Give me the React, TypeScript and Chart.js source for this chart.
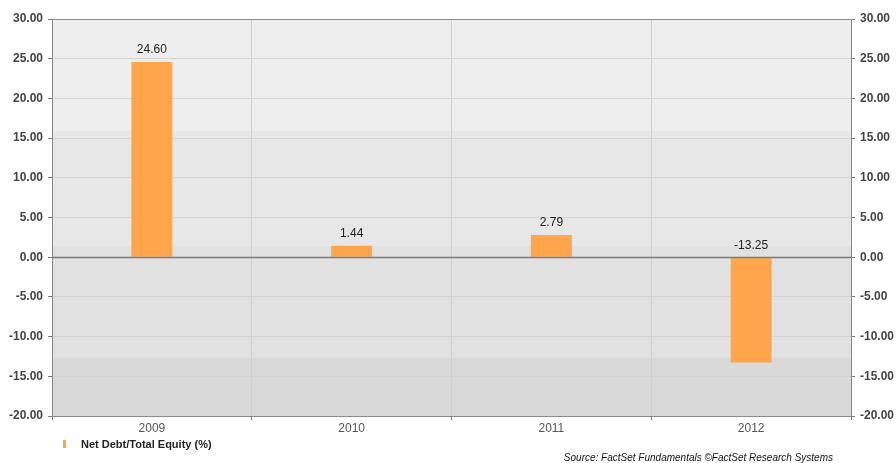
import React, { useEffect, useRef } from "react";
import { Chart, registerables } from "chart.js";

Chart.register(...registerables);

const categories = ["2009", "2010", "2011", "2012"];
const seriesName = "Net Debt/Total Equity (%)";
const values = [24.6, 1.44, 2.79, -13.25];
const yMin = -20;
const yMax = 30;
const yStep = 5;
const bandEdges = [30, 15.9, 1.4, -12.6, -20];
const bandColors = ["#eeeeee", "#e7e7e7", "#e1e1e1", "#d9d9d9"];
const sourceText = "Source: FactSet Fundamentals \u00a9FactSet Research Systems";

const FONT = "'Liberation Sans', Arial, sans-serif";
const BAR = "#ffa64d";

const customPlugin = {
  id: "custom",
  beforeDraw(chart: any) {
    const { ctx, chartArea } = chart;
    const y = chart.scales.y;
    ctx.save();
    for (let i = 0; i < bandColors.length; i++) {
      const t = y.getPixelForValue(bandEdges[i]);
      const b = y.getPixelForValue(bandEdges[i + 1]);
      ctx.fillStyle = bandColors[i];
      ctx.fillRect(chartArea.left, t, chartArea.right - chartArea.left, b - t);
    }
    ctx.restore();
  },
  afterDatasetsDraw(chart: any) {
    const { ctx, chartArea } = chart;
    const x = chart.scales.x;
    const y = chart.scales.y;
    ctx.save();
    const zy = Math.round(y.getPixelForValue(0)) + 0.5;
    ctx.strokeStyle = "#7a7a7a";
    ctx.lineWidth = 1.5;
    ctx.beginPath();
    ctx.moveTo(chartArea.left, zy);
    ctx.lineTo(chartArea.right, zy);
    ctx.stroke();
    ctx.strokeStyle = "#8a8a8a";
    ctx.lineWidth = 1;
    ctx.beginPath();
    ctx.moveTo(chartArea.left, Math.round(chartArea.top) + 0.5);
    ctx.lineTo(chartArea.right, Math.round(chartArea.top) + 0.5);
    ctx.stroke();
    ctx.fillStyle = "#222222";
    ctx.font = `12px ${FONT}`;
    ctx.textAlign = "center";
    ctx.textBaseline = "middle";
    values.forEach((v, i) => {
      const px = x.getPixelForValue(i);
      const py = y.getPixelForValue(Math.max(v, 0)) - 12;
      ctx.fillText(v.toFixed(2), px, py);
    });
    ctx.restore();
  },
  afterDraw(chart: any) {
    const { ctx } = chart;
    ctx.save();
    ctx.fillStyle = BAR;
    ctx.fillRect(63, 440, 3, 8);
    ctx.fillStyle = "#222222";
    ctx.font = `bold 11px ${FONT}`;
    ctx.textAlign = "left";
    ctx.textBaseline = "middle";
    ctx.fillText(seriesName, 81, 445);
    ctx.font = `italic 10px ${FONT}`;
    ctx.textAlign = "right";
    ctx.fillStyle = "#111111";
    ctx.fillText(sourceText, 833, 458);
    ctx.restore();
  },
};

export default function App() {
  const ref = useRef<HTMLCanvasElement>(null);
  useEffect(() => {
    document.body.style.margin = "0";
    const chart = new Chart(ref.current!, {
      type: "bar",
      data: {
        labels: categories,
        datasets: [
          {
            label: seriesName,
            data: values,
            backgroundColor: BAR,
            borderWidth: 0,
            categoryPercentage: 1,
            barPercentage: 0.205,
          },
        ],
      },
      options: {
        animation: false,
        responsive: false,
        devicePixelRatio: 1,
        layout: { padding: { top: 19, left: 0, right: 0, bottom: 0 } },
        plugins: { legend: { display: false }, tooltip: { enabled: false } },
        scales: {
          x: {
            offset: true,
            grid: {
              offset: true,
              color: "#d0d0d0",
              tickColor: "#777777",
              tickLength: 4,
            },
            border: { color: "#8a8a8a" },
            ticks: {
              color: "#555555",
              font: { family: FONT, size: 12 },
              padding: 1,
            },
            afterFit: (s: any) => {
              s.height = 47;
            },
          },
          y: {
            position: "left",
            min: yMin,
            max: yMax,
            grid: {
              color: "#d3d3d3",
              tickColor: "#777777",
              tickLength: 4,
            },
            border: { color: "#8a8a8a" },
            ticks: {
              stepSize: yStep,
              color: "#444444",
              font: { family: FONT, size: 12, weight: "bold" },
              padding: 5,
              callback: (v: any) => Number(v).toFixed(2),
            },
            afterFit: (s: any) => {
              s.width = 52;
            },
          },
          y2: {
            position: "right",
            min: yMin,
            max: yMax,
            grid: {
              drawOnChartArea: false,
              tickColor: "#777777",
              tickLength: 4,
            },
            border: { color: "#8a8a8a" },
            ticks: {
              stepSize: yStep,
              color: "#444444",
              font: { family: FONT, size: 12, weight: "bold" },
              padding: 5,
              callback: (v: any) => Number(v).toFixed(2),
            },
            afterFit: (s: any) => {
              s.width = 45;
            },
          },
        },
      },
      plugins: [customPlugin],
    });
    return () => chart.destroy();
  }, []);
  return (
    <div style={{ position: "absolute", left: 0, top: 0, width: 896, height: 463, background: "#ffffff" }}>
      <canvas ref={ref} width={896} height={463} style={{ width: 896, height: 463 }} />
    </div>
  );
}
